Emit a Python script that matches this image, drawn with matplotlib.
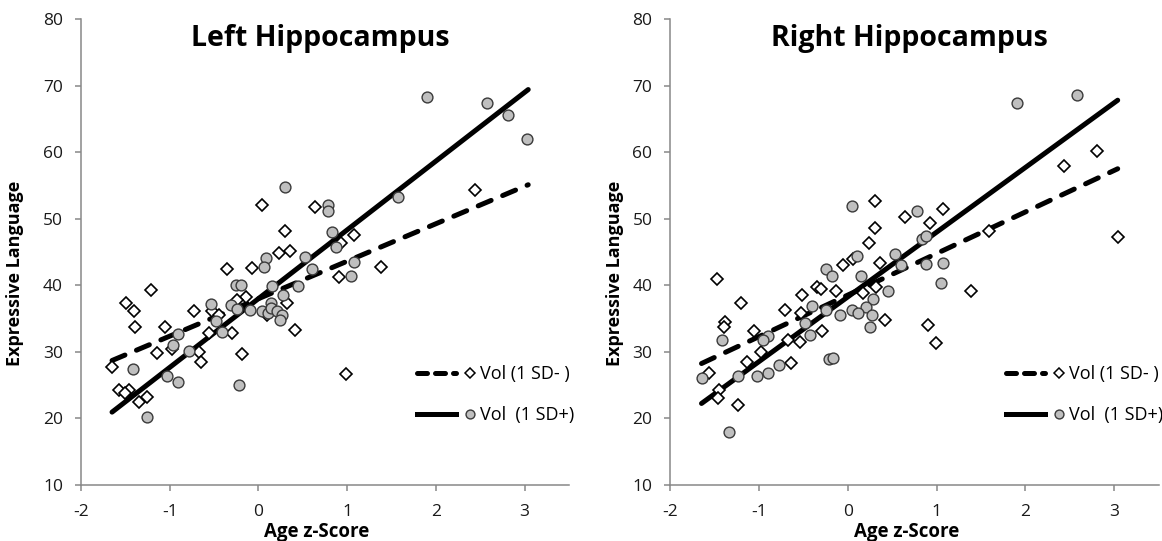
import matplotlib
matplotlib.use("Agg")
import matplotlib.pyplot as plt
from matplotlib.lines import Line2D
from matplotlib.legend_handler import HandlerTuple

plt.rcParams['font.family'] = ['Open Sans', 'DejaVu Sans']
plt.rcParams['axes.unicode_minus'] = False

# --- данні ---
x_ticks = [-2, -1, 0, 1, 2, 3]
y_ticks = [10, 20, 30, 40, 50, 60, 70, 80]
panel_titles = ["Left Hippocampus", "Right Hippocampus"]
legend_labels = ["Vol (1 SD- )", "Vol  (1 SD+)"]
x_label = "Age z-Score"
y_label = "Expressive Language"

# лінії регресії (кінці)
fit_x = [-1.65, 3.04]
left_minus_fit = [28.7, 55.1]
left_plus_fit = [20.95, 69.4]
right_minus_fit = [28.25, 57.5]
right_plus_fit = [22.25, 67.8]

# ліва: ромби (1 SD-)
left_minus_x = [2.435, 0.044, 0.639, 0.30, 1.076, 0.929, 0.233, 0.361, -0.358, -0.069,
                1.385, 0.903, -1.206, -0.144, -0.238, 0.316, -1.488, -1.401, -0.724, -0.52,
                -0.445, 0.101, -1.386, -1.055, 0.41, -0.558, -0.302, -0.98, -1.142, -0.671,
                -0.181, -0.652, -1.65, 0.986, -1.575, -1.462, -1.5, -1.255, -1.349]
left_minus_y = [54.3, 52.1, 51.7, 48.1, 47.5, 46.4, 44.8, 45.1, 42.5, 42.6,
                42.8, 41.2, 39.3, 38.3, 37.8, 37.4, 37.4, 36.2, 36.2, 36.1,
                35.6, 35.5, 33.7, 33.7, 33.3, 32.8, 32.9, 30.4, 29.8, 30.0,
                29.7, 28.5, 27.7, 26.6, 24.3, 24.3, 23.8, 23.2, 22.5]

# ліва: кружки (1 SD+)
left_plus_x = [1.904, 2.578, 2.816, 3.03, 0.30, 1.577, 0.782, 0.786, 0.828, 0.873,
               0.09, 0.526, 0.063, 0.598, 1.076, 1.046, -0.257, -0.193, 0.157, 0.451,
               0.282, -0.532, -0.31, -0.242, -0.095, 0.044, 0.108, 0.138, 0.142, 0.206,
               0.27, 0.248, -0.483, -0.411, -0.904, -0.965, -0.784, -1.413, -1.036, -0.904,
               -0.219, -1.251]
left_plus_y = [68.3, 67.4, 65.6, 62.0, 54.8, 53.2, 52.1, 51.2, 48.0, 45.7,
               44.1, 44.3, 42.7, 42.4, 43.5, 41.4, 40.1, 40.1, 39.9, 39.9,
               38.5, 37.2, 37.0, 36.5, 36.3, 36.1, 35.9, 37.3, 36.6, 36.2,
               35.5, 34.8, 34.6, 33.0, 32.7, 31.1, 30.2, 27.5, 26.4, 25.5,
               25.0, 20.2]

# права: ромби (1 SD-)
right_minus_x = [2.812, 2.436, 0.305, 1.075, 0.647, 0.925, 0.305, 0.241, 1.586, 3.038,
                 -0.056, 0.06, 0.361, -1.474, -0.346, -0.301, 0.32, -0.132, 1.391, 0.165,
                 -1.203, -0.523, -0.714, -0.526, -1.38, -1.398, 0.414, 0.902, -1.056, -0.289,
                 -0.677, -0.541, 0.989, -0.985, -1.135, -0.647, -1.568, -1.455, -1.466, -1.244]
right_minus_y = [60.2, 57.9, 52.7, 51.4, 50.3, 49.3, 48.6, 46.3, 48.2, 47.3,
                 43.1, 43.9, 43.3, 41.0, 39.7, 39.5, 39.7, 39.2, 39.2, 38.9,
                 37.4, 38.5, 36.3, 35.8, 34.5, 33.8, 34.8, 34.0, 33.1, 33.1,
                 31.8, 31.5, 31.4, 30.0, 28.5, 28.3, 26.8, 24.3, 23.0, 22.0]

# права: кружки (1 SD+)
right_plus_x = [2.579, 1.906, 0.049, 0.782, 0.831, 0.88, 0.098, 0.53, -0.244, -0.184,
                0.602, 0.88, 1.075, 0.143, 1.049, 0.451, -0.402, -0.244, 0.282, 0.041,
                0.207, 0.113, -0.094, 0.267, 0.248, -0.481, -0.432, -0.902, -0.962, -1.421,
                -0.778, -0.214, -0.165, -1.03, -0.902, -1.244, -1.643, -1.342]
right_plus_y = [68.6, 67.4, 51.9, 51.1, 46.9, 47.4, 44.4, 44.7, 42.5, 41.4,
                43.1, 43.2, 43.3, 41.4, 40.4, 39.1, 36.9, 36.3, 37.9, 36.3,
                36.8, 35.9, 35.5, 35.5, 33.8, 34.4, 32.5, 32.4, 31.8, 31.8,
                28.0, 28.9, 29.1, 26.4, 26.8, 26.4, 26.1, 17.9]

AXIS_GREY = '#888888'
DASH = (0, (2.8, 2.5))


def draw_panel(ax, title, minus_x, minus_y, plus_x, plus_y, minus_fit, plus_fit, ylab_x):
    # лінії тренду
    ax.plot(fit_x, minus_fit, color='black', lw=3.6, ls=DASH, dash_capstyle='round', zorder=2)
    ax.plot(fit_x, plus_fit, color='black', lw=3.6, solid_capstyle='round', zorder=2)

    # точки
    ax.plot(minus_x, minus_y, ls='none', marker='D', ms=6, mfc='white', mec='black',
            mew=1.2, zorder=3)
    ax.plot(plus_x, plus_y, ls='none', marker='o', ms=7.8, mfc='#bfbfbf', mec='#3a3a3a',
            mew=1.0, zorder=4)

    ax.set_xlim(-2, 3.5)
    ax.set_ylim(10, 80)
    ax.set_xticks(x_ticks)
    ax.set_yticks(y_ticks)
    ax.set_xticklabels([str(t) for t in x_ticks])

    for side in ['top', 'right']:
        ax.spines[side].set_visible(False)
    for side in ['left', 'bottom']:
        ax.spines[side].set_color(AXIS_GREY)
        ax.spines[side].set_linewidth(1.1)
    ax.tick_params(direction='out', length=4, width=1.1, color=AXIS_GREY,
                   labelsize=12.5, labelcolor='#1a1a1a')
    ax.tick_params(axis='x', pad=10)
    ax.tick_params(axis='y', pad=9)

    ax.text(0.49, 0.942, title, transform=ax.transAxes, ha='center', va='baseline',
            fontsize=20.5, fontweight='bold')

    ax.set_xlabel(x_label, fontsize=13.5, fontweight='bold')
    ax.xaxis.set_label_coords(0.483, -0.079)
    ax.set_ylabel(y_label, fontsize=13, fontweight='bold', va='center')
    ax.yaxis.set_label_coords(ylab_x, 0.455)

    # легенда: відрізок лінії + маркер
    h_minus = (Line2D([], [], color='black', lw=3.6, ls=(0, (2.0, 1.6)), dash_capstyle='round'),
               Line2D([], [], ls='none', marker='D', ms=4.6, mfc='white', mec='black', mew=1.1))
    h_plus = (Line2D([], [], color='black', lw=3.6),
              Line2D([], [], ls='none', marker='o', ms=6.4, mfc='#bfbfbf', mec='#3a3a3a', mew=1.0))
    ax.legend([h_minus, h_plus], legend_labels,
              handler_map={tuple: HandlerTuple(ndivide=None, pad=-0.3)},
              loc='center left', bbox_to_anchor=(0.688, 0.194), frameon=False,
              borderpad=0, borderaxespad=0, handlelength=4.0, handletextpad=-0.5,
              labelspacing=1.3, fontsize=13)


fig = plt.figure(figsize=(11.62, 5.41), dpi=100)
ax_left = fig.add_axes([0.0697, 0.1035, 0.42, 0.8614])
ax_right = fig.add_axes([0.577, 0.1035, 0.42, 0.8614])

draw_panel(ax_left, panel_titles[0], left_minus_x, left_minus_y, left_plus_x, left_plus_y,
           left_minus_fit, left_plus_fit, -0.135)
draw_panel(ax_right, panel_titles[1], right_minus_x, right_minus_y, right_plus_x, right_plus_y,
           right_minus_fit, right_plus_fit, -0.114)

fig.savefig('out.png', dpi=100)
